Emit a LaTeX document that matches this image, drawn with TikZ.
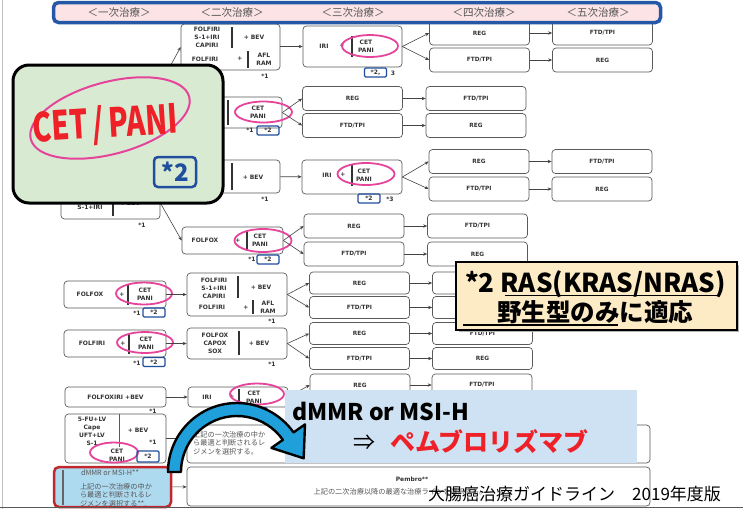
\documentclass[tikz,border=0pt]{standalone}
\usepackage{fontspec}
\usepackage{graphicx}
\usetikzlibrary{shapes.geometric,arrows.meta,calc}
\newfontfamily\dv{DejaVu Sans}
\newfontfamily\jp{Noto Sans CJK JP}
\definecolor{boxgray}{HTML}{5A5A5A}
\definecolor{txtc}{HTML}{333333}
\definecolor{arrc}{HTML}{444444}
\definecolor{hdrblue}{HTML}{2457A6}
\definecolor{hdrpink}{HTML}{FBE3E6}
\definecolor{pinkc}{HTML}{E6449A}
\definecolor{blue2}{HTML}{1F4E9E}
\definecolor{greenf}{HTML}{D9EAD3}
\definecolor{redt}{HTML}{EE2128}
\definecolor{yellowf}{HTML}{FDEBC6}
\definecolor{lblue}{HTML}{CFE2F3}
\definecolor{arrowblue}{HTML}{1FA0DA}
\definecolor{dmmrf}{HTML}{AEDAF0}
\definecolor{redb}{HTML}{C0282E}
\definecolor{jgray}{HTML}{555555}
\begin{document}
\begin{tikzpicture}[x=1pt,y=-1pt,
  rbox/.style={draw=boxgray, line width=0.7, rounded corners=3.5, fill=white, inner sep=0},
  cbox/.style={rbox, minimum width=100, minimum height=24, font=\dv\bfseries\fontsize{5.8}{7}\selectfont, text=txtc},
  cboxs/.style={cbox, minimum height=22},
  tx/.style={font=\dv\bfseries\fontsize{6}{8}\selectfont, text=txtc, inner sep=0, align=center},
  jtx/.style={font=\jp\fontsize{7.2}{8.4}\selectfont, text=jgray, inner sep=0, align=left},
  arr/.style={draw=arrc, line width=0.6, -{Stealth[length=4pt,width=3.4pt]}},
  bar/.style={draw=txtc, line width=1.1},
  pell/.style={draw=pinkc, line width=1.8, ellipse, inner sep=0},
  stwo/.style={draw=blue2, line width=1.3, rounded corners=1.2, minimum width=22, minimum height=9, inner sep=0, font=\dv\bfseries\fontsize{6}{7}\selectfont, text=txtc},
  hlab/.style={font=\jp\fontsize{10.5}{11}\selectfont, text=jgray, inner sep=0}
]
\useasboundingbox (0,0) rectangle (743,509);
\fill[white] (0,0) rectangle (743,509);
\draw[black!25, line width=0.8] (2,0) -- (2,509);

% ---------- Row A
\node[rbox, minimum width=99, minimum height=46] (A2) at (230.5,47) {};
\node[tx] at (207,37) {FOLFIRI\\S-1+IRI\\CAPIRI};
\draw[bar] (232,27) -- (232,48);
\node[tx] at (254,37) {+ BEV};
\node[tx] at (205,59) {FOLFIRI};
\node[tx] at (240,59) {+};
\draw[bar] (248,51) -- (248,68);
\node[tx] at (264,59) {AFL\\RAM};
\node[tx] at (265,76) {*1};
\coordinate (A1out) at (166,74);
\draw[arr] (A1out) -- (A2.west);

\node[rbox, minimum width=99, minimum height=41] (A3) at (352.5,46.5) {};
\node[tx] at (324,46) {IRI};
\node[tx] at (342,46) {+};
\draw[bar] (352,36) -- (352,57);
\node[tx] at (366,46) {CET\\PANI};
\node[pell, minimum width=56, minimum height=22] at (370,46) {};
\node[stwo] at (375.5,72.5) {*2,};
\node[tx] at (393,73) {3};
\draw[arr] (A2.east |- A3.west) -- (A3.west);

\node[cbox] (A4a) at (479.5,33) {REG};
\node[cbox] (A4b) at (479.5,60) {FTD/TPI};
\node[cbox] (A5a) at (602.5,33) {FTD/TPI};
\node[cbox] (A5b) at (602.5,60) {REG};
\draw[arr] (A3.east) -- (A4a.west);
\draw[arr] (A3.east) -- (A4b.west);
\draw[arr] (A4a) -- (A5a);
\draw[arr] (A4b) -- (A5b);

% ---------- Row B
\node[rbox, minimum width=92, minimum height=31] (B2) at (236,112.5) {};
\draw[bar] (228,100) -- (228,125);
\node[tx] at (258,112) {CET\\PANI};
\node[pell, minimum width=57, minimum height=21] at (263.5,112) {};
\node[tx] at (250,130) {*1};
\node[stwo] at (268,130.5) {*2};
\node[cbox] (B3a) at (352.5,98.5) {REG};
\node[cbox] (B3b) at (352.5,125.5) {FTD/TPI};
\node[cbox] (B4a) at (476,98.5) {FTD/TPI};
\node[cbox] (B4b) at (476,125.5) {REG};
\draw[arr] (B2.east) -- (B3a.west);
\draw[arr] (B2.east) -- (B3b.west);
\draw[arr] (B3a) -- (B4a);
\draw[arr] (B3b) -- (B4b);

% ---------- Row C
\node[rbox, minimum width=92, minimum height=33] (C2) at (234,176.5) {};
\node[tx] at (205,176.5) {FOLFOX\\CAPOX\\SOX};
\draw[bar] (232,163) -- (232,190);
\node[tx] at (253,177) {+ BEV};
\node[tx] at (265,199) {*1};
\node[rbox, minimum width=100, minimum height=34] (C3) at (352,177) {};
\node[tx] at (327,175) {IRI};
\node[tx] at (343,175) {+};
\draw[bar] (352,165) -- (352,186);
\node[tx] at (364,175) {CET\\PANI};
\node[pell, minimum width=57, minimum height=22] at (366,174) {};
\node[stwo] at (369,198.5) {*2};
\node[tx] at (390,199.5) {*3};
\draw[arr] (C2) -- (C3);
\node[cbox] (C4a) at (479,161.5) {REG};
\node[cbox] (C4b) at (479,189) {FTD/TPI};
\node[cbox] (C5a) at (602,161.5) {FTD/TPI};
\node[cbox] (C5b) at (602,189) {REG};
\draw[arr] (C3.east) -- (C4a.west);
\draw[arr] (C3.east) -- (C4b.west);
\draw[arr] (C4a) -- (C5a);
\draw[arr] (C4b) -- (C5b);

\node[rbox, minimum width=99, minimum height=32] (C1) at (110.5,203) {};
\node[tx] at (90,203.5) {FOLFIRI\\S-1+IRI};
\draw[bar] (113,190) -- (113,216);
\node[tx] at (130,203) {+ BEV};
\node[tx] at (142,225) {*1};

% ---------- Row D
\node[rbox, minimum width=101, minimum height=27] (D2) at (232.5,240.5) {};
\node[tx] at (205,240.5) {FOLFOX};
\node[tx] at (238,240.5) {+};
\draw[bar] (247,230) -- (247,251);
\node[tx] at (260,240.5) {CET\\PANI};
\node[pell, minimum width=57, minimum height=23] at (263,240.5) {};
\node[tx] at (252,259) {*1};
\node[stwo] at (268,259.5) {*2};
\draw[arr] (C1.east) -- (C2.west);
\draw[arr] (C1.east) -- (D2.west);
\node[cbox] (D3a) at (354,226) {REG};
\node[cbox] (D3b) at (354,254) {FTD/TPI};
\node[cbox] (D4a) at (477.5,226) {FTD/TPI};
\node[cbox] (D4b) at (477.5,254) {REG};
\draw[arr] (D2.east) -- (D3a.west);
\draw[arr] (D2.east) -- (D3b.west);
\draw[arr] (D3a) -- (D4a);
\draw[arr] (D3b) -- (D4b);

% ---------- Row E
\node[rbox, minimum width=102, minimum height=27] (E1) at (115,294.5) {};
\node[tx] at (90,294.5) {FOLFOX};
\node[tx] at (122,294.5) {+};
\draw[bar] (128,284) -- (128,305);
\node[tx] at (145,294) {CET\\PANI};
\node[pell, minimum width=56, minimum height=22] at (144,293.5) {};
\node[tx] at (137,313) {*1};
\node[stwo] at (154,312.5) {*2};
\node[rbox, minimum width=100, minimum height=43] (E2) at (237,294.5) {};
\node[tx] at (214,288) {FOLFIRI\\S-1+IRI\\CAPIRI};
\draw[bar] (238,276) -- (238,298);
\node[tx] at (261,287) {+ BEV};
\node[tx] at (212,307.5) {FOLFIRI};
\node[tx] at (246,307.5) {+};
\draw[bar] (253,300) -- (253,314);
\node[tx] at (268,307.5) {AFL\\RAM};
\node[tx] at (272,321) {*1};
\draw[arr] (E1) -- (E2);
\node[cboxs] (E3a) at (359.5,283) {REG};
\node[cboxs] (E3b) at (359.5,307.5) {FTD/TPI};
\node[cboxs] (E4a) at (482.5,283) {};
\node[cboxs] (E4b) at (482.5,307.5) {};
\draw[arr] (E2.east) -- (E3a.west);
\draw[arr] (E2.east) -- (E3b.west);
\draw[arr] (E3a) -- (E4a);
\draw[arr] (E3b) -- (E4b);

% ---------- Row F
\node[rbox, minimum width=102, minimum height=27] (F1) at (115,343.5) {};
\node[tx] at (92,343.5) {FOLFIRI};
\node[tx] at (123,343.5) {+};
\draw[bar] (129,333) -- (129,354);
\node[tx] at (146,343.5) {CET\\PANI};
\node[pell, minimum width=56, minimum height=21] at (145,342.5) {};
\node[tx] at (137,363) {*1};
\node[stwo] at (154,362) {*2};
\node[rbox, minimum width=100, minimum height=31] (F2) at (237,343.5) {};
\node[tx] at (215,343) {FOLFOX\\CAPOX\\SOX};
\draw[bar] (239,331) -- (239,355);
\node[tx] at (259,343) {+ BEV};
\node[tx] at (272,364) {*1};
\draw[arr] (F1) -- (F2);
\node[cboxs] (F3a) at (359.5,333.5) {REG};
\node[cboxs] (F3b) at (359.5,358.5) {FTD/TPI};
\node[cboxs] (F4a) at (482.5,333.5) {FTD/TPI};
\node[cboxs] (F4b) at (482.5,358.5) {REG};
\draw[arr] (F2.east) -- (F3a.west);
\draw[arr] (F2.east) -- (F3b.west);
\draw[arr] (F3a) -- (F4a);
\draw[arr] (F3b) -- (F4b);

% ---------- Row G
\node[rbox, minimum width=101, minimum height=20, tx] (G1) at (115.5,397) {FOLFOXIRI +BEV};
\node[tx] at (153,411) {*1};
\node[rbox, minimum width=100, minimum height=20] (G2) at (238,397) {};
\node[tx] at (207,397) {IRI};
\node[tx] at (232,397) {+};
\draw[bar] (239,389) -- (239,405);
\node[tx] at (254,397) {CET\\PANI};
\node[pell, minimum width=54, minimum height=21] at (257,394) {};
\node[stwo] at (256,412) {*2};
\draw[arr] (G1) -- (G2);
\node[cboxs] (G3a) at (360,385) {REG};
\node[cboxs] (G3b) at (360,409) {};
\node[cboxs] (G4a) at (482,385) {FTD/TPI};
\node[cboxs] (G4b) at (482,409) {};
\draw[arr] (G2.east) -- (G3a.west);
\draw[arr] (G2.east) -- (G3b.west);
\draw[arr] (G3a) -- (G4a);
\draw[arr] (G3b) -- (G4b);

% ---------- Row H
\node[rbox, minimum width=101, minimum height=49] (H1) at (115.5,438.5) {};
\node[tx] at (92,431) {5-FU+LV\\Cape\\UFT+LV\\S-1};
\draw[draw=boxgray, line width=0.7] (119,414) -- (119,447);
\node[tx] at (138,430) {+ BEV};
\node[tx] at (153,442) {*1};
\node[tx] at (117,455.5) {CET\\PANI};
\node[pell, minimum width=48, minimum height=20] at (114,452.5) {};
\node[stwo, minimum height=11] at (148,456.5) {*2};
\node[rbox, minimum width=463, minimum height=38] (H2) at (418.5,444) {};
\node[jtx, anchor=west] at (193,443) {上記の一次治療の中か\\ら最適と判断されるレ\\ジメンを選択する。};
\draw[arr] (H1.east) -- (H1.east -| H2.west);

% ---------- Row I
\node[rbox, minimum width=463, minimum height=39] (I2) at (418.5,486.5) {};
\node[tx] at (412,479) {Pembro**};
\node[jtx] at (400,492) {上記の二次治療以降の最適な治療ラインを選択する。};
\node[draw=redb, line width=2.5, fill=dmmrf, rounded corners=5, minimum width=117, minimum height=40, inner sep=0] (I1) at (112.5,487) {};
\draw[line width=1.5, draw=black!60] (63,470) -- (63,505);
\node[jtx] at (110,473) {dMMR or MSI-H**};
\node[jtx] at (116,495) {上記の一次治療の中か\\ら最適と判断されるレ\\ジメンを選択する**.};
\draw[arr] (I1) -- (I2);
\draw[line width=1.5, draw=black!65] (0,507.5) -- (743,507.5);

% ---------- Header
\node[draw=hdrblue, line width=3.5, fill=hdrpink, rounded corners=5, minimum width=607, minimum height=20, inner sep=0] (hdr) at (357,12.5) {};
\node[hlab] at (119,12.5) {＜一次治療＞};
\node[hlab] at (232,12.5) {＜二次治療＞};
\node[hlab] at (353,12.5) {＜三次治療＞};
\node[hlab] at (484,12.5) {＜四次治療＞};
\node[hlab] at (598,12.5) {＜五次治療＞};

% ---------- Green callout
\node[draw=black, line width=3, fill=greenf, rounded corners=16, minimum width=210, minimum height=138, inner sep=0] (green) at (118,134) {};
\node[draw=pinkc, line width=2, ellipse, minimum width=164, minimum height=72, rotate=15, inner sep=0] (gell) at (110,118) {};
\node[text=redt, font=\jp\bfseries\fontsize{40}{40}\selectfont, rotate=3.5, inner sep=0] (gtxt) at (105,125) {\scalebox{0.72}[1]{CET\,/\,PANI}};
\node[draw=blue2, line width=2.5, rounded corners=4, minimum width=42, minimum height=30, inner sep=0, text=blue2, font=\jp\bfseries\fontsize{24}{24}\selectfont] (gstar) at (175,172) {*2};

% ---------- Yellow note
\fill[black!30] (459,265) rectangle (739,332);
\node[draw=black, line width=2.5, fill=yellowf, minimum width=281, minimum height=68, inner sep=0] (note) at (596.5,296) {};
\node[anchor=base west, inner sep=0, font=\jp\bfseries\fontsize{26}{26}\selectfont] (n1) at (465,292) {*2 RAS(KRAS/NRAS)};
\draw[line width=1.6] (505,295.5) -- (717,295.5);
\node[anchor=base west, inner sep=0, font=\jp\bfseries\fontsize{24.5}{24.5}\selectfont] (n2) at (497,321) {野生型のみに適応};
\draw[line width=1.6] (463,325) -- (618,325);

% ---------- Light blue panel
\node[fill=lblue, minimum width=352, minimum height=73, inner sep=0] (pbox) at (461,426.5) {};
\node[anchor=base west, inner sep=0, font=\jp\bfseries\fontsize{23}{23}\selectfont] (p1) at (292,420) {dMMR or MSI-H};
\node[anchor=base west, inner sep=0, font=\jp\fontsize{22}{22}\selectfont] (p2) at (353,450) {⇒};
\node[anchor=base west, inner sep=0, text=redt, font=\jp\bfseries\fontsize{25}{25}\selectfont] (p3) at (390,451) {ペムブロリズマブ};

% ---------- Curved arrow
\coordinate (C) at (237,472);
\fill[arrowblue, draw=black, line width=2.4, line join=round]
  ($(C)+(-180:69)$) arc[start angle=-180, end angle=-35, radius=69]
  -- ($(C)+(-35:83)$) -- ($(C)+(-35:62.5)+(55:27)$) -- ($(C)+(-35:42)$) -- ($(C)+(-35:56)$)
  arc[start angle=-35, end angle=-180, radius=56] -- cycle;

% ---------- Footer
\node[anchor=base west, inner sep=0, font=\jp\fontsize{17}{17}\selectfont] (foot) at (428,500) {大腸癌治療ガイドライン　2019年度版};
\end{tikzpicture}
\end{document}
